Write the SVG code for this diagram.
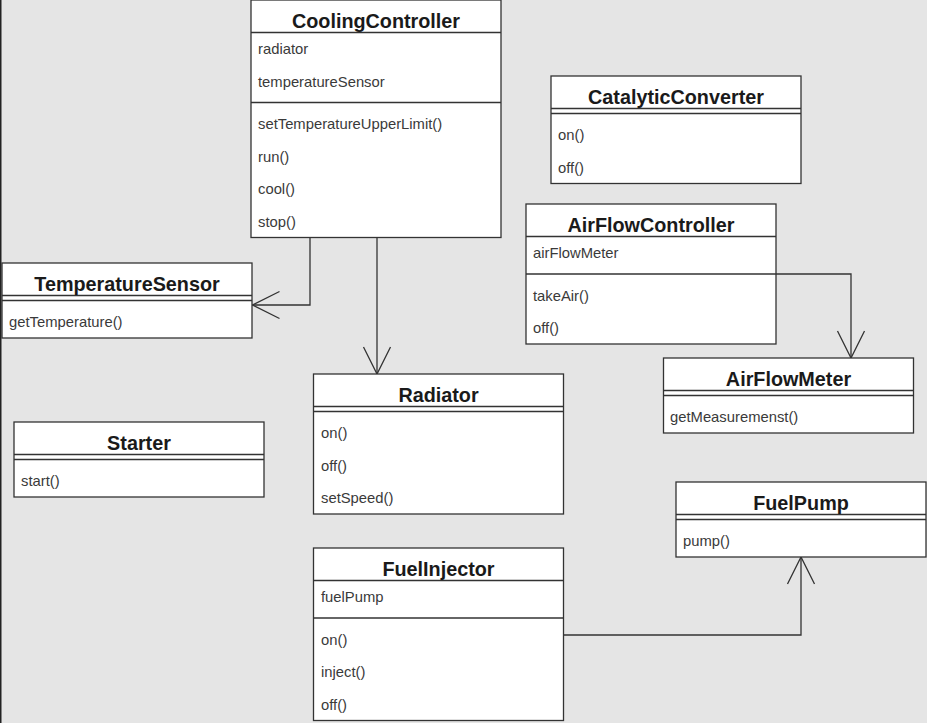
<svg xmlns="http://www.w3.org/2000/svg" width="927" height="723" viewBox="0 0 927 723">
<defs>
<style>
.bg{fill:#e5e5e5}
.box{fill:#ffffff;stroke:#333333;stroke-width:1.3}
.ln{stroke:#333333;stroke-width:1.3;fill:none}
.title{font-family:"Liberation Sans",Arial,Helvetica,sans-serif;font-size:19.8px;font-weight:bold;fill:#1a1a1a;text-anchor:middle}
.item{font-family:"Liberation Sans",Arial,Helvetica,sans-serif;font-size:14.8px;fill:#3a3a3a}
.edge{stroke:#333333;stroke-width:1.3;fill:none}
</style>
<marker id="open" markerUnits="userSpaceOnUse" markerWidth="40" markerHeight="40" refX="0" refY="0" orient="auto" overflow="visible" viewBox="-30 -20 40 40">
<path d="M -27 -13.5 L 0 0 L -27 13.5" fill="none" stroke="#333333" stroke-width="1.3"/>
</marker>
</defs>
<rect class="bg" x="0" y="0" width="927" height="723"/>
<rect x="0" y="0" width="1.5" height="723" fill="#222222"/>

<g id="connectors">
<polyline class="edge" points="310,237.5 310,305 252.5,305" marker-end="url(#open)"/>
<polyline class="edge" points="377,237.5 377,374" marker-end="url(#open)"/>
<polyline class="edge" points="776,274 851,274 851,358" marker-end="url(#open)"/>
<polyline class="edge" points="563.5,635 801,635 801,557" marker-end="url(#open)"/>
</g>

<g id="CoolingController">
<rect class="box" x="251" y="0" width="250" height="237.5"/>
<line class="ln" x1="251" y1="32.5" x2="501" y2="32.5"/>
<line class="ln" x1="251" y1="102.5" x2="501" y2="102.5"/>
<text class="title" x="376" y="27.5">CoolingController</text>
<text class="item" x="258" y="54">radiator</text>
<text class="item" x="258" y="86.5">temperatureSensor</text>
<text class="item" x="258" y="129">setTemperatureUpperLimit()</text>
<text class="item" x="258" y="161.5">run()</text>
<text class="item" x="258" y="194">cool()</text>
<text class="item" x="258" y="226.5">stop()</text>
</g>

<g id="TemperatureSensor">
<rect class="box" x="2" y="263" width="250" height="75"/>
<line class="ln" x1="2" y1="295.5" x2="252" y2="295.5"/>
<line class="ln" x1="2" y1="300.5" x2="252" y2="300.5"/>
<text class="title" x="127" y="291">TemperatureSensor</text>
<text class="item" x="9" y="327">getTemperature()</text>
</g>

<g id="Starter">
<rect class="box" x="14" y="422" width="250" height="75"/>
<line class="ln" x1="14" y1="454.5" x2="264" y2="454.5"/>
<line class="ln" x1="14" y1="459.5" x2="264" y2="459.5"/>
<text class="title" x="139" y="450">Starter</text>
<text class="item" x="21" y="486">start()</text>
</g>

<g id="Radiator">
<rect class="box" x="313.5" y="374" width="250" height="140"/>
<line class="ln" x1="313.5" y1="406.5" x2="563.5" y2="406.5"/>
<line class="ln" x1="313.5" y1="411.5" x2="563.5" y2="411.5"/>
<text class="title" x="438.5" y="402">Radiator</text>
<text class="item" x="321" y="438">on()</text>
<text class="item" x="321" y="470.5">off()</text>
<text class="item" x="321" y="503">setSpeed()</text>
</g>

<g id="FuelInjector">
<rect class="box" x="313.5" y="548" width="250" height="172.5"/>
<line class="ln" x1="313.5" y1="580.5" x2="563.5" y2="580.5"/>
<line class="ln" x1="313.5" y1="618" x2="563.5" y2="618"/>
<text class="title" x="438.5" y="576">FuelInjector</text>
<text class="item" x="321" y="602">fuelPump</text>
<text class="item" x="321" y="644.5">on()</text>
<text class="item" x="321" y="677">inject()</text>
<text class="item" x="321" y="709.5">off()</text>
</g>

<g id="FuelPump">
<rect class="box" x="676" y="482" width="250" height="75"/>
<line class="ln" x1="676" y1="514.5" x2="926" y2="514.5"/>
<line class="ln" x1="676" y1="519.5" x2="926" y2="519.5"/>
<text class="title" x="801" y="510">FuelPump</text>
<text class="item" x="683" y="546">pump()</text>
</g>

<g id="CatalyticConverter">
<rect class="box" x="551" y="76" width="250" height="107.5"/>
<line class="ln" x1="551" y1="108.5" x2="801" y2="108.5"/>
<line class="ln" x1="551" y1="113.5" x2="801" y2="113.5"/>
<text class="title" x="676" y="104">CatalyticConverter</text>
<text class="item" x="558" y="140">on()</text>
<text class="item" x="558" y="172.5">off()</text>
</g>

<g id="AirFlowController">
<rect class="box" x="526" y="204" width="250" height="140"/>
<line class="ln" x1="526" y1="236.5" x2="776" y2="236.5"/>
<line class="ln" x1="526" y1="274" x2="776" y2="274"/>
<text class="title" x="651" y="232">AirFlowController</text>
<text class="item" x="533" y="258">airFlowMeter</text>
<text class="item" x="533" y="300.5">takeAir()</text>
<text class="item" x="533" y="333">off()</text>
</g>

<g id="AirFlowMeter">
<rect class="box" x="663.5" y="358" width="250" height="75"/>
<line class="ln" x1="663.5" y1="390.5" x2="913.5" y2="390.5"/>
<line class="ln" x1="663.5" y1="395.5" x2="913.5" y2="395.5"/>
<text class="title" x="788.5" y="386">AirFlowMeter</text>
<text class="item" x="670" y="422">getMeasuremenst()</text>
</g>
</svg>
